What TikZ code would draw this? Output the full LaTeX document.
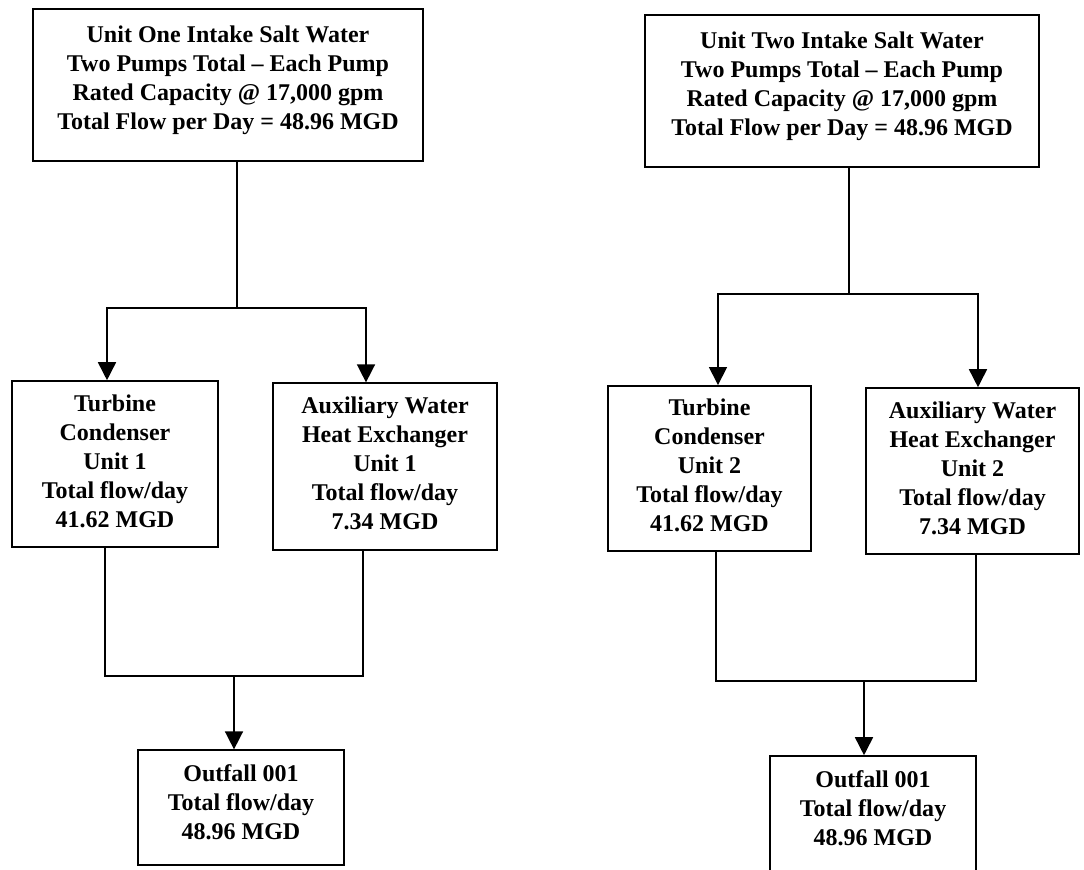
\documentclass[tikz,border=0pt]{standalone}
\usepackage{fontspec}
\setmainfont{Liberation Serif}
\usepackage{tikz}
\usetikzlibrary{arrows.meta}
% extra depth under the last line, lifts the text in its box
\newcommand{\lowpad}[1]{\rule[-#1]{0pt}{#1}}

\begin{document}
\begin{tikzpicture}[x=0.75pt,y=0.75pt,yscale=-1,xscale=1,
    box/.style={draw, line width=1.2pt, align=center, inner sep=2pt,
        font=\bfseries\fontsize{18}{21.75}\selectfont},
    pipe/.style={line width=1.2pt},
    flow/.style={line width=1.2pt, -{Triangle[width=13.5pt,length=13.5pt]}}]
    %set diagram frame: 1084 x 869
    \clip (0,0) rectangle (1084,869);

    %Shape: Rectangle [id:unit one intake]
    \node [box, minimum width=292.5pt, minimum height=114pt] (in1) at (228,85)
        {Unit One Intake Salt Water\\Two Pumps Total -- Each Pump\\Rated Capacity @ 17,000 gpm\\Total Flow per Day = 48.96 MGD\lowpad{10.5pt}};
    %Shape: Rectangle [id:turbine condenser 1]
    \node [box, minimum width=154.5pt, minimum height=124.5pt] (tc1) at (115,464)
        {Turbine\\Condenser\\Unit 1\\Total flow/day\\41.62 MGD\lowpad{5pt}};
    %Shape: Rectangle [id:aux heat exchanger 1]
    \node [box, minimum width=168pt, minimum height=125pt] (ax1) at (385,466.5)
        {Auxiliary Water\\Heat Exchanger\\Unit 1\\Total flow/day\\7.34 MGD\lowpad{5pt}};
    %Shape: Rectangle [id:outfall 1]
    \node [box, minimum width=154.5pt, minimum height=86pt] (of1) at (241,807.5)
        {Outfall 001\\Total flow/day\\48.96 MGD\lowpad{7.5pt}};

    %Shape: Rectangle [id:unit two intake]
    \node [box, minimum width=295.5pt, minimum height=114pt] (in2) at (842,91)
        {Unit Two Intake Salt Water\\Two Pumps Total -- Each Pump\\Rated Capacity @ 17,000 gpm\\Total Flow per Day = 48.96 MGD\lowpad{11pt}};
    %Shape: Rectangle [id:turbine condenser 2]
    \node [box, minimum width=152pt, minimum height=124pt] (tc2) at (709.5,468.5)
        {Turbine\\Condenser\\Unit 2\\Total flow/day\\41.62 MGD\lowpad{5pt}};
    %Shape: Rectangle [id:aux heat exchanger 2]
    \node [box, minimum width=160pt, minimum height=124.5pt] (ax2) at (972.5,471)
        {Auxiliary Water\\Heat Exchanger\\Unit 2\\Total flow/day\\7.34 MGD\lowpad{5pt}};
    %Shape: Rectangle [id:outfall 2]
    \node [box, minimum width=154.5pt, minimum height=87pt] (of2) at (873,814)
        {Outfall 001\\Total flow/day\\48.96 MGD\lowpad{9pt}};

    %Junctions
    \coordinate (s1) at (237,308);
    \coordinate (a1) at (107,308);
    \coordinate (b1) at (366,308);
    \coordinate (m1) at (234,676);
    \coordinate (c1) at (105,676);
    \coordinate (d1) at (363,676);
    \coordinate (s2) at (849,294);
    \coordinate (a2) at (718,294);
    \coordinate (b2) at (978,294);
    \coordinate (m2) at (864,681);
    \coordinate (c2) at (716,681);
    \coordinate (d2) at (976,681);

    %Straight Lines [id:unit one split]
    \draw [pipe] (s1 |- in1.south) -- (s1);
    \draw [flow] (s1) -- (a1) -- (a1 |- tc1.north);
    \draw [flow] (s1) -- (b1) -- (b1 |- ax1.north);
    %Straight Lines [id:unit one join]
    \draw [pipe] (c1 |- tc1.south) -- (c1) -- (d1) -- (d1 |- ax1.south);
    \draw [flow] (m1) -- (m1 |- of1.north);

    %Straight Lines [id:unit two split]
    \draw [pipe] (s2 |- in2.south) -- (s2);
    \draw [flow] (s2) -- (a2) -- (a2 |- tc2.north);
    \draw [flow] (s2) -- (b2) -- (b2 |- ax2.north);
    %Straight Lines [id:unit two join]
    \draw [pipe] (c2 |- tc2.south) -- (c2) -- (d2) -- (d2 |- ax2.south);
    \draw [flow] (m2) -- (m2 |- of2.north);

\end{tikzpicture}
\end{document}
